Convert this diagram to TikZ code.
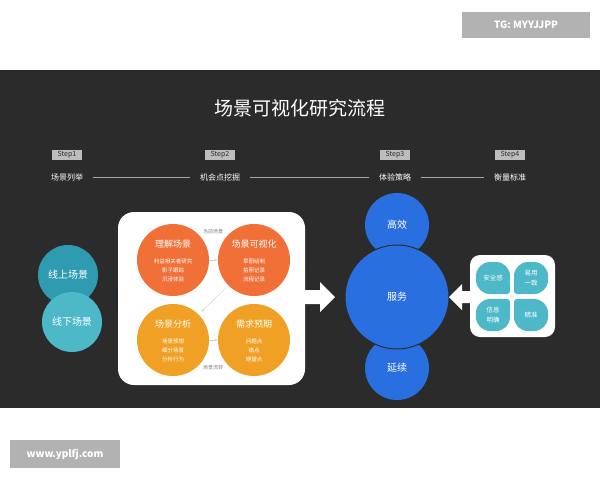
\documentclass[tikz,border=0pt]{standalone}
\usepackage{fontspec}
\setmainfont{Noto Sans CJK SC}
\usetikzlibrary{positioning,arrows.meta}
\definecolor{band}{HTML}{2B2B2B}
\definecolor{tagg}{HTML}{BDBDBD}
\definecolor{orA}{HTML}{F07038}
\definecolor{orB}{HTML}{F0A024}
\definecolor{tealA}{HTML}{2E9BB0}
\definecolor{tealB}{HTML}{4DB8C8}
\definecolor{blu}{HTML}{2A6FE0}
\definecolor{navy}{HTML}{1E2A3A}
\tikzset{
  steptag/.style={fill=tagg, text=band, font=\fontsize{7}{8}\selectfont, inner sep=1.5pt, minimum width=30pt},
  phase/.style={text=white, font=\fontsize{8}{9}\selectfont},
  blob/.style={circle, text=white, align=center, font=\fontsize{10}{12}\selectfont},
  head/.style={text=white, font=\fontsize{9}{10}\selectfont},
  small/.style={font=\fontsize{5.5}{9}\selectfont, text=white, align=center},
  flow/.style={-{Latex[length=3pt]}, draw=gray!40, thin},
  mark box/.style={fill=gray!60, text=white, font=\fontsize{10}{11}\selectfont\bfseries},
}
\begin{document}
\begin{tikzpicture}[x=1pt, y=-1pt]

    % page and band
    \useasboundingbox (0,0) rectangle (600,480);
    \fill[white] (0,0) rectangle (600,480);
    \fill[band] (0,70) rectangle (600,408);

    % watermarks
    \node[mark box, minimum width=128pt, minimum height=26pt] (tg) at (526,25) {TG: MYYJJPP};
    \node[mark box, minimum width=110pt, minimum height=28pt] (web) at (65,454) {www.yplfj.com};

    % title
    \node[text=white, font=\fontsize{19}{21}\selectfont] (title) at (300,108) {场景可视化研究流程};

    % steps
    \node[steptag] (s1) at (67,155) {Step1};
    \node[steptag] (s2) at (220,155) {Step2};
    \node[steptag] (s3) at (395,155) {Step3};
    \node[steptag] (s4) at (510,155) {Step4};
    \node[phase] (p1) at (67,177) {场景列举};
    \node[phase] (p2) at (220,177) {机会点挖掘};
    \node[phase] (p3) at (395,177) {体验策略};
    \node[phase] (p4) at (510,177) {衡量标准};
    \draw[gray!70, thin, shorten <=6pt, shorten >=6pt] (p1) -- (p2);
    \draw[gray!70, thin, shorten <=6pt, shorten >=6pt] (p2) -- (p3);
    \draw[gray!70, thin, shorten <=6pt, shorten >=6pt] (p3) -- (p4);

    % scenes
    \node[blob, fill=tealA, minimum size=60pt] (on) at (68,275) {线上场景};
    \node[blob, fill=tealB, minimum size=60pt] (off) at (72,322) {线下场景};
    \fill[navy] (116,288) -- (132,288) -- (140,298) -- (132,308) -- (116,308) -- cycle;

    % opportunity box
    \fill[white, rounded corners=16pt] (118,212) rectangle (305,385);
    \node[blob, fill=orA, minimum size=72pt] (c1) at (173,260) {};
    \node[blob, fill=orA, minimum size=72pt] (c2) at (254,260) {};
    \node[blob, fill=orB, minimum size=72pt] (c3) at (173,340) {};
    \node[blob, fill=orB, minimum size=72pt] (c4) at (254,340) {};
    \node[head] at (173,244) {理解场景};
    \node[small] at (173,270) {利益相关者研究\\影子跟踪\\沉浸体验};
    \node[head] at (254,244) {场景可视化};
    \node[small] at (254,270) {草图绘制\\拍照记录\\流程记录};
    \node[head] at (173,324) {场景分析};
    \node[small] at (173,350) {场景预想\\细分场景\\分析行为};
    \node[head] at (254,324) {需求预期};
    \node[small] at (254,350) {问题点\\痛点\\期望点};
    \node[font=\fontsize{5}{6}\selectfont, text=gray] (now) at (213,232) {当前场景};
    \node[font=\fontsize{5}{6}\selectfont, text=gray] (turn) at (213,368) {场景流转};
    \draw[flow] (c1) -- (c2);
    \draw[flow, shorten <=4pt, shorten >=4pt] (c2) -- (c3);
    \draw[flow] (c3) -- (c4);
    \fill[white] (305,290) -- (320,290) -- (320,282) -- (335,297) -- (320,312) -- (320,304) -- (305,304) -- cycle;

    % strategy
    \node[blob, fill=blu, minimum size=64pt] (eff) at (397,225) {高效};
    \node[blob, fill=blu, minimum size=64pt] (cont) at (397,368) {延续};
    \node[blob, fill=blu, minimum size=104pt, draw=band, line width=1pt] (serv) at (397,297) {服务};
    \fill[white] (470,291) -- (462,291) -- (462,284) -- (449,297) -- (462,310) -- (462,303) -- (470,303) -- cycle;

    % measures
    \fill[white, rounded corners=10pt] (470,255) rectangle (555,337);
    \fill[tealB, rounded corners=14pt] (476,262) rectangle (510,294);
    \fill[tealB, rounded corners=14pt] (514,262) rectangle (548,294);
    \fill[tealB, rounded corners=14pt] (476,299) rectangle (510,331);
    \fill[tealB, rounded corners=14pt] (514,299) rectangle (548,331);
    \fill[tealB, rounded corners=3pt] (496,280) rectangle (510,294);
    \fill[tealB, rounded corners=3pt] (514,280) rectangle (528,294);
    \fill[tealB, rounded corners=3pt] (496,299) rectangle (510,313);
    \fill[tealB, rounded corners=3pt] (514,299) rectangle (528,313);
    \node[small, font=\fontsize{6.5}{10}\selectfont] (m1) at (493,278) {安全感};
    \node[small, font=\fontsize{6.5}{10}\selectfont] (m2) at (531,278) {易用\\一致};
    \node[small, font=\fontsize{6.5}{10}\selectfont] (m3) at (493,315) {信息\\明确};
    \node[small, font=\fontsize{6.5}{10}\selectfont] (m4) at (531,315) {精准};

\end{tikzpicture}
\end{document}
